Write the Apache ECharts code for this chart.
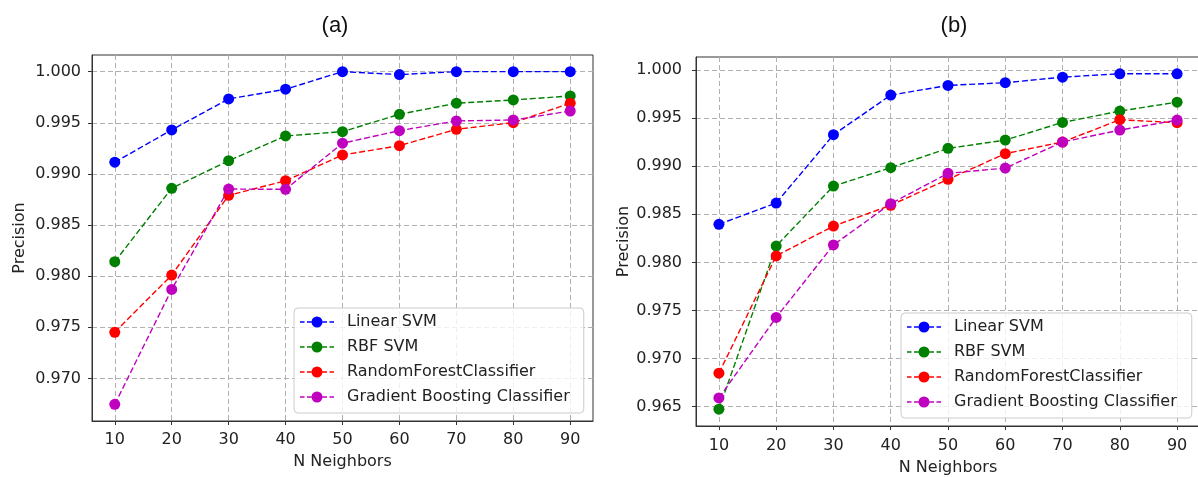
<!DOCTYPE html>
<html>
<head>
<meta charset="utf-8">
<script src="https://cdn.jsdelivr.net/npm/echarts@6/dist/echarts.min.js"></script>
<style>
  html, body { margin: 0; padding: 0; background: #fff; }
  #chart { width: 1198px; height: 477px; }
</style>
</head>
<body>
<div id="chart"></div>
<script>
// Number of neighbours on the x axis
const neighbors = [10, 20, 30, 40, 50, 60, 70, 80, 90];
const seriesNames = ['Linear SVM', 'RBF SVM', 'RandomForestClassifier', 'Gradient Boosting Classifier'];
const seriesColors = ['#0000ff', '#008000', '#ff0000', '#bf00bf'];

// Panel (a) precision values
const linearSvmA = [0.99114, 0.99430, 0.99733, 0.99828, 1.00000, 0.99971, 1.00000, 1.00000, 1.00000];
const rbfSvmA    = [0.98141, 0.98859, 0.99129, 0.99371, 0.99413, 0.99583, 0.99691, 0.99723, 0.99762];
const randomForestA = [0.97451, 0.98010, 0.98790, 0.98933, 0.99185, 0.99276, 0.99436, 0.99501, 0.99691];
const gradBoostA = [0.96746, 0.97870, 0.98852, 0.98849, 0.99300, 0.99423, 0.99518, 0.99527, 0.99615];

// Panel (b) precision values
const linearSvmB = [0.98396, 0.98617, 0.99328, 0.99740, 0.99841, 0.99869, 0.99927, 0.99962, 0.99962];
const rbfSvmB    = [0.96472, 0.98170, 0.98794, 0.98985, 0.99186, 0.99272, 0.99456, 0.99574, 0.99667];
const randomForestB = [0.96847, 0.98067, 0.98378, 0.98594, 0.98864, 0.99131, 0.99252, 0.99484, 0.99453];
const gradBoostB = [0.96589, 0.97427, 0.98181, 0.98611, 0.98926, 0.98981, 0.99252, 0.99376, 0.99480];

// Tick positions
const xTicks = [10, 20, 30, 40, 50, 60, 70, 80, 90];
const yTicksA = [0.970, 0.975, 0.980, 0.985, 0.990, 0.995, 1.000];
const yTicksB = [0.965, 0.970, 0.975, 0.980, 0.985, 0.990, 0.995, 1.000];

const panelA = [linearSvmA, rbfSvmA, randomForestA, gradBoostA];
const panelB = [linearSvmB, rbfSvmB, randomForestB, gradBoostB];

// 5% padding around the data range on each axis
function paddedRange(arrays) {
  const all = [].concat(...arrays);
  const lo = Math.min(...all), hi = Math.max(...all);
  const pad = (hi - lo) * 0.05;
  return [lo - pad, hi + pad];
}
const xPad = (Math.max(...neighbors) - Math.min(...neighbors)) * 0.05;
const [yMinA, yMaxA] = paddedRange(panelA);
const [yMinB, yMaxB] = paddedRange(panelB);

const FONT = 'DejaVu Sans';
const TEXT = '#222';
const SPINE = '#333';

// Legend glyph: dashed line with a circle marker in the middle
const legendIcon = 'path://M0 5.3h4.5v1.4h-4.5z M7 5.3h4.5v1.4h-4.5z M22.5 5.3h4.5v1.4h-4.5z M29.5 5.3h4.5v1.4h-4.5z M11.5 6a5.5 5.5 0 1 0 11 0a5.5 5.5 0 1 0 -11 0z';

function xAxisFor(gridIndex, labelMargin, nameGap) {
  return {
    type: 'value', gridIndex,
    min: Math.min(...neighbors) - xPad, max: Math.max(...neighbors) + xPad,
    name: 'N Neighbors', nameLocation: 'middle', nameGap,
    nameTextStyle: { fontFamily: FONT, fontSize: 16, color: TEXT },
    axisLine: { show: true, onZero: false, lineStyle: { color: SPINE, width: 1 } },
    axisTick: { show: true, inside: false, length: 4, customValues: xTicks, lineStyle: { color: SPINE } },
    axisLabel: { customValues: xTicks, margin: labelMargin, fontFamily: FONT, fontSize: 16, color: TEXT },
    splitLine: { show: true, lineStyle: { color: '#b0b0b0', type: [5, 3], width: 1 } }
  };
}
function yAxisFor(gridIndex, lo, hi, ticks, labelMargin, nameGap) {
  return {
    type: 'value', gridIndex, min: lo, max: hi,
    name: 'Precision', nameLocation: 'middle', nameGap, nameRotate: 90,
    nameTextStyle: { fontFamily: FONT, fontSize: 16, color: TEXT },
    axisLine: { show: true, onZero: false, lineStyle: { color: SPINE, width: 1 } },
    axisTick: { show: true, inside: false, length: 4, customValues: ticks, lineStyle: { color: SPINE } },
    axisLabel: { customValues: ticks, margin: labelMargin, fontFamily: FONT, fontSize: 16, color: TEXT,
                 formatter: v => v.toFixed(3) },
    splitLine: { show: true, lineStyle: { color: '#b0b0b0', type: [5, 3], width: 1 } }
  };
}
function legendFor(left, top, rightPad) {
  return {
    left, top, orient: 'vertical', data: seriesNames, selectedMode: false,
    icon: legendIcon, itemWidth: 34, itemHeight: 11, itemGap: 7,
    padding: [5, rightPad, 7, 6],
    backgroundColor: 'rgba(255,255,255,0.8)', borderColor: '#cccccc', borderWidth: 1, borderRadius: 4,
    textStyle: { fontFamily: FONT, fontSize: 16, color: TEXT, lineHeight: 18, padding: [0, 0, 0, 8] }
  };
}
function lineSeries(values, idx, axisIndex) {
  return {
    name: seriesNames[idx], type: 'line',
    xAxisIndex: axisIndex, yAxisIndex: axisIndex,
    data: neighbors.map((n, i) => [n, values[i]]),
    symbol: 'circle', symbolSize: 11, showSymbol: true,
    itemStyle: { color: seriesColors[idx] },
    lineStyle: { color: seriesColors[idx], width: 1.4, type: [6, 2.8] },
    emphasis: { disabled: true }, animation: false, z: 3 + idx
  };
}

const option = {
  backgroundColor: '#ffffff',
  animation: false,
  title: [
    { text: '(a)', left: 330, top: 10, textAlign: 'center',
      textStyle: { fontFamily: 'Liberation Sans', fontSize: 22, fontWeight: 'normal', color: '#111' } },
    { text: '(b)', left: 949, top: 10, textAlign: 'center',
      textStyle: { fontFamily: 'Liberation Sans', fontSize: 22, fontWeight: 'normal', color: '#111' } }
  ],
  grid: [
    { left: 92, top: 55, width: 501, height: 366, outerBoundsMode: 'none', containLabel: false,
      show: true, borderColor: SPINE, borderWidth: 1, backgroundColor: 'transparent' },
    { left: 696, top: 57, width: 504, height: 369, outerBoundsMode: 'none', containLabel: false,
      show: true, borderColor: SPINE, borderWidth: 1, backgroundColor: 'transparent' }
  ],
  xAxis: [xAxisFor(0, 11, 33), xAxisFor(1, 12, 34)],
  yAxis: [yAxisFor(0, yMinA, yMaxA, yTicksA, 11, 64), yAxisFor(1, yMinB, yMaxB, yTicksB, 14, 60)],
  legend: [legendFor(294, 308, 14), legendFor(901, 313, 15)],
  series: [
    ...panelA.map((vals, i) => lineSeries(vals, i, 0)),
    ...panelB.map((vals, i) => lineSeries(vals, i, 1))
  ]
};

const chart = echarts.init(document.getElementById('chart'), null, { renderer: 'canvas' });
chart.setOption(option);
</script>
</body>
</html>
